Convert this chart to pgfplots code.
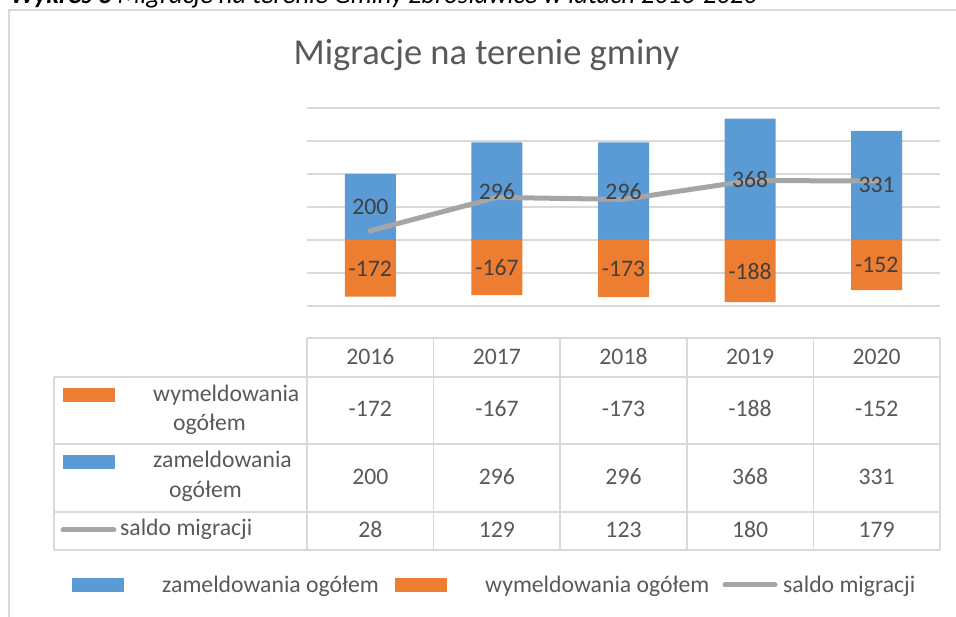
\documentclass[border=0pt]{standalone}
\usepackage{pgfplots}
\pgfplotsset{compat=1.18}
\usepackage{pgfplotstable}
\usepackage{fontspec}
\setmainfont{Carlito}
\definecolor{cblue}{HTML}{5B9BD5}
\definecolor{corange}{HTML}{ED7D31}
\definecolor{cgray}{HTML}{A5A5A5}
\definecolor{cgrid}{HTML}{D9D9D9}
\definecolor{ctext}{HTML}{595959}
\definecolor{clabel}{HTML}{404040}

\pgfplotstableread{
x year zam wym saldo
0 2016 200 -172 28
1 2017 296 -167 129
2 2018 296 -173 123
3 2019 368 -188 180
4 2020 331 -152 179
}\data

\newcommand{\tf}{\fontsize{23.7}{28}\selectfont}
\begin{document}
\begin{tikzpicture}
\useasboundingbox (0pt,0pt) rectangle (956pt,617pt);
% caption (cut off at top)
\begin{scope}
\clip (0pt,0pt) rectangle (956pt,617pt);
\node[anchor=base west, inner sep=0pt, font=\fontsize{26.6}{30}\selectfont\itshape] at (10pt,613pt) {\textbf{Wykres 3} Migracje na terenie Gminy Zbrosławice w latach 2016-2020};
\end{scope}
% frame
\draw[cgrid, line width=2pt] (9pt,0pt) -- (9pt,607pt) -- (956pt,607pt);
% title
\node[anchor=base, inner sep=0pt, text=ctext, font=\fontsize{36.5}{40}\selectfont] at (486.5pt,552pt) {Migracje na terenie gminy};

\begin{axis}[
  at={(307pt,311pt)}, anchor=south west,
  width=633pt, height=198pt, scale only axis,
  xmin=-0.5, xmax=4.5, ymin=-200, ymax=400,
  ytick={-200,-100,0,100,200,300,400},
  xtick=\empty, yticklabels={},
  major tick length=0pt,
  axis line style={draw=none},
  ymajorgrids, grid style={cgrid, line width=1.5pt},
  clip=false,
]
\addplot[ybar, bar width=51pt, bar shift=0pt, fill=cblue, draw=none] table[x=x, y=zam] {\data};
\addplot[ybar, bar width=51pt, bar shift=0pt, fill=corange, draw=none] table[x=x, y=wym] {\data};
\addplot[cgray, line width=5pt, line cap=round, line join=round, mark=none] table[x=x, y=saldo] {\data};
\addplot[draw=none, mark=none, point meta=explicit symbolic,
  nodes near coords={\pgfplotspointmeta}, nodes near coords align={center},
  every node near coord/.append style={anchor=center, inner sep=0pt, text=clabel, font=\tf}]
  table[x=x, y expr=\thisrow{zam}/2, meta=zam] {\data};
\addplot[draw=none, mark=none, point meta=explicit symbolic,
  nodes near coords={\pgfplotspointmeta}, nodes near coords align={center},
  every node near coord/.append style={anchor=center, inner sep=0pt, text=clabel, font=\tf}]
  table[x=x, y expr=\thisrow{wym}/2, meta=wym] {\data};
\end{axis}

% data table grid
\begin{scope}[cgrid, line width=1.5pt]
\draw (307pt,279pt) -- (940pt,279pt);
\draw (54pt,240pt) -- (940pt,240pt);
\draw (54pt,173pt) -- (940pt,173pt);
\draw (54pt,105pt) -- (940pt,105pt);
\draw (54pt,67pt) -- (940pt,67pt);
\draw (54pt,240pt) -- (54pt,67pt);
\foreach \xx in {307,433.6,560.2,686.8,813.4,940} {
  \draw (\xx pt,279pt) -- (\xx pt,67pt);
}
\end{scope}
% table contents
\foreach \i in {0,...,4} {
  \pgfmathsetmacro{\cx}{370.3+126.6*\i}
  \pgfplotstablegetelem{\i}{year}\of\data \let\vyear\pgfplotsretval
  \pgfplotstablegetelem{\i}{wym}\of\data \let\vwym\pgfplotsretval
  \pgfplotstablegetelem{\i}{zam}\of\data \let\vzam\pgfplotsretval
  \pgfplotstablegetelem{\i}{saldo}\of\data \let\vsal\pgfplotsretval
  \node[anchor=base, inner sep=0pt, text=ctext, font=\tf] at (\cx pt,252pt) {\vyear};
  \node[anchor=base, inner sep=0pt, text=ctext, font=\tf] at (\cx pt,200pt) {\vwym};
  \node[anchor=base, inner sep=0pt, text=ctext, font=\tf] at (\cx pt,132pt) {\vzam};
  \node[anchor=base, inner sep=0pt, text=ctext, font=\tf] at (\cx pt,79pt) {\vsal};
}
% row headers
\fill[corange] (63pt,215pt) rectangle (115pt,229pt);
\node[anchor=base west, inner sep=0pt, text=ctext, font=\tf] at (153pt,215pt) {wymeldowania};
\node[anchor=base west, inner sep=0pt, text=ctext, font=\tf] at (173pt,186pt) {ogółem};
\fill[cblue] (63pt,148pt) rectangle (115pt,162pt);
\node[anchor=base west, inner sep=0pt, text=ctext, font=\tf] at (153pt,149pt) {zameldowania};
\node[anchor=base west, inner sep=0pt, text=ctext, font=\tf] at (169pt,119pt) {ogółem};
\draw[cgray, line width=5pt, line cap=round] (63pt,87pt) -- (114pt,87pt);
\node[anchor=base west, inner sep=0pt, text=ctext, font=\tf] at (120pt,81pt) {saldo migracji};
% legend
\fill[cblue] (72pt,25pt) rectangle (124pt,39pt);
\node[anchor=base west, inner sep=0pt, text=ctext, font=\tf] at (162pt,24pt) {zameldowania ogółem};
\fill[corange] (395pt,25pt) rectangle (447pt,39pt);
\node[anchor=base west, inner sep=0pt, text=ctext, font=\tf] at (485pt,24pt) {wymeldowania ogółem};
\draw[cgray, line width=5pt, line cap=round] (725pt,32pt) -- (775pt,32pt);
\node[anchor=base west, inner sep=0pt, text=ctext, font=\tf] at (783pt,24pt) {saldo migracji};
\end{tikzpicture}
\end{document}
